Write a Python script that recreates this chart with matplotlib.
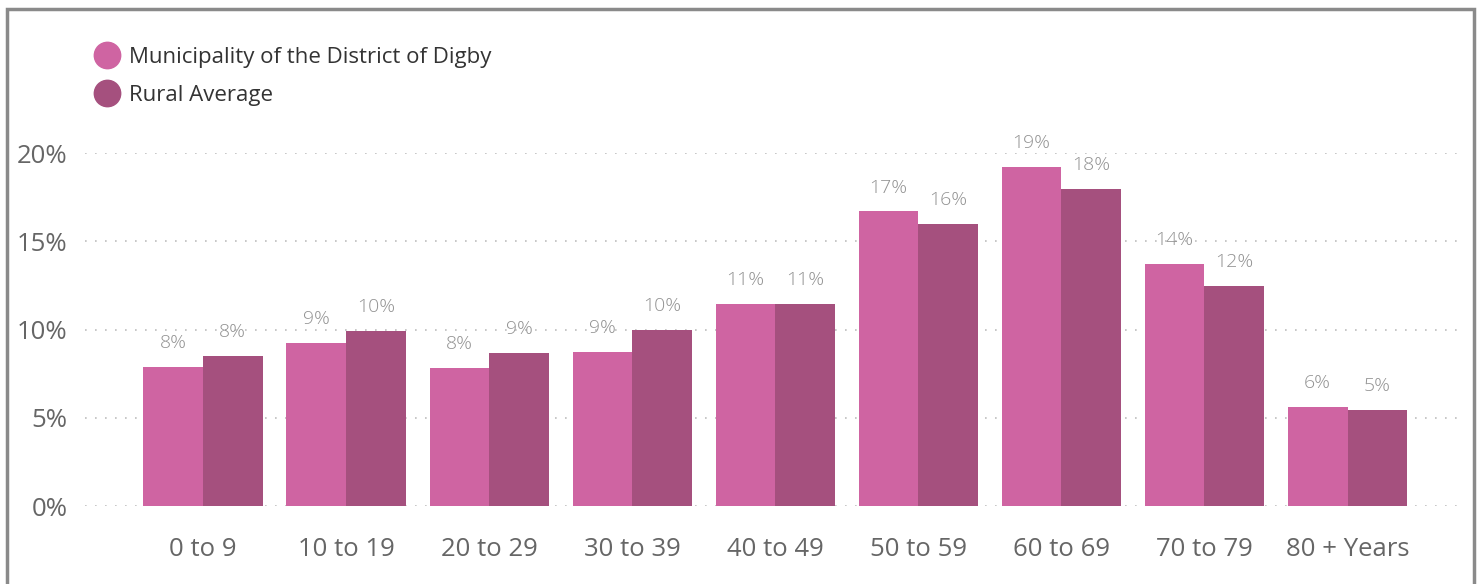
import matplotlib.pyplot as plt
from matplotlib.patches import Rectangle
from matplotlib.lines import Line2D
import numpy as np

plt.rcParams['font.family'] = ['Open Sans', 'DejaVu Sans']

# data
age_groups = ['0 to 9', '10 to 19', '20 to 29', '30 to 39', '40 to 49',
              '50 to 59', '60 to 69', '70 to 79', '80 + Years']
digby = [7.9, 9.25, 7.85, 8.75, 11.45, 16.7, 19.25, 13.75, 5.6]
rural = [8.5, 9.95, 8.65, 10.0, 11.45, 16.0, 18.0, 12.45, 5.45]
series_names = ['Municipality of the District of Digby', 'Rural Average']

c_digby = '#CF64A2'
c_rural = '#A5507E'

fig = plt.figure(figsize=(14.8, 5.84), dpi=100)
ax = fig.add_axes([85 / 1480, 78 / 584, (1462 - 85) / 1480, (506 - 153.3) / 584])

# outer frame like the report visual
fig.patches.append(Rectangle((7 / 1480, -0.05), (1474 - 7) / 1480, (584 - 9) / 584 + 0.05,
                             transform=fig.transFigure, fill=False,
                             edgecolor='#8a8a8a', linewidth=2.5))

x = np.arange(len(age_groups))
w = 0.417
b1 = ax.bar(x - w / 2, digby, w, color=c_digby, zorder=2)
b2 = ax.bar(x + w / 2, rural, w, color=c_rural, zorder=2)

for bars, vals in ((b1, digby), (b2, rural)):
    for rect, v in zip(bars, vals):
        ax.text(rect.get_x() + rect.get_width() / 2, v + 0.85, f'{round(v):.0f}%',
                ha='center', va='bottom', fontsize=14, color='#929292',
                fontweight='light', clip_on=False)

ax.set_xlim(-0.825, 8.8)
ax.set_ylim(0, 20)
ax.set_yticks([0, 5, 10, 15, 20])
ax.set_yticklabels([f'{t}%' for t in [0, 5, 10, 15, 20]])
ax.set_xticks(x)
ax.set_xticklabels(age_groups)
ax.tick_params(axis='both', length=0, labelsize=18.5, labelcolor='#666666')
ax.tick_params(axis='x', pad=22)
ax.tick_params(axis='y', pad=12.5)
ax.yaxis.grid(True, color='#bdbdbd', linestyle=(0, (1, 5)), linewidth=1.2, zorder=0)
ax.set_axisbelow(True)
for s in ax.spines.values():
    s.set_visible(False)

handles = [Line2D([], [], marker='o', linestyle='', markersize=19, color=c)
           for c in (c_digby, c_rural)]
fig.legend(handles, series_names, loc='upper left', bbox_to_anchor=(86 / 1480, 1 - 38 / 584),
           frameon=False, fontsize=16, labelcolor='#333333', handletextpad=0.45,
           labelspacing=0.75, borderaxespad=0, handlelength=1.1)

fig.savefig('out.png', dpi=100)
